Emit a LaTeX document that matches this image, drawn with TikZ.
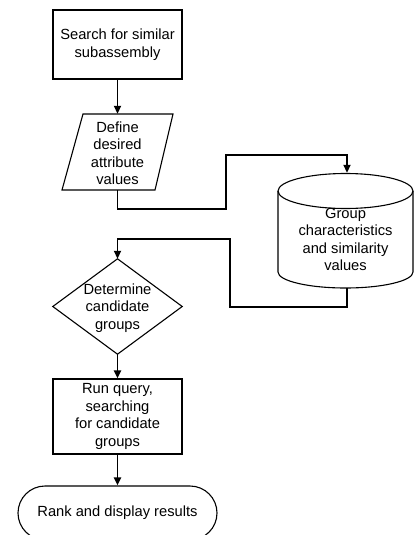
\documentclass[tikz,border=0pt]{standalone}
\usepackage{fontspec}
\setmainfont{Liberation Sans}
\usetikzlibrary{arrows.meta,shapes.misc}
\tikzset{
  shapeline/.style={draw=black,line width=1.1pt},
  lbl/.style={align=center,inner sep=0pt,font=\fontsize{14.7}{17.5}\selectfont},
  boxnode/.style={shapeline,rectangle,lbl},
  ghost/.style={rectangle,inner sep=0pt},
  conn/.style={draw=black,line width=1.9pt,-{Triangle[length=8pt,width=7pt]}}
}
\begin{document}
\begin{tikzpicture}[x=1pt,y=-1pt]
\useasboundingbox (0,0) rectangle (414,535);
\clip (0,0) rectangle (414,535);
\fill[white] (0,0) rectangle (414,535);

% Box 1
\node[boxnode,minimum width=129pt,minimum height=69pt] (b1) at (117.5,44.5) {Search for similar\\subassembly};

% Parallelogram
\node[ghost,minimum width=93pt,minimum height=76pt] (p) at (117.5,152) {};
\draw[shapeline] (83,114) -- (173,114) -- (155,190) -- (62,190) -- cycle;
\node[lbl] (pt) at (117.5,153) {Define\\desired\\attribute\\values};

% Cylinder
\node[ghost,minimum width=135pt,minimum height=115pt] (cyl) at (345.5,230.5) {};
\draw[shapeline,fill=white] (278,191) -- (278,272) arc[start angle=180,end angle=0,x radius=67.5,y radius=16] -- (413,191);
\draw[shapeline] (345.5,191) ellipse[x radius=67.5,y radius=17.5];
\node[lbl] (ct) at (345.5,239.5) {Group\\characteristics\\and similarity\\values};

% Diamond
\node[ghost,minimum width=129pt,minimum height=95pt] (d) at (117.5,306.5) {};
\draw[shapeline] (d.north) -- (d.east) -- (d.south) -- (d.west) -- cycle;
\node[lbl] (dt) at (117.5,308) {Determine\\candidate\\groups};

% Box 2
\node[boxnode,minimum width=129pt,minimum height=75pt] (b2) at (117.5,416.5) {Run query,\\searching\\for candidate\\groups};

% Terminal
\node[shapeline,rounded rectangle,lbl,minimum width=199pt,minimum height=54pt] (t) at (117.5,513) {Rank and display results};

% Connectors
\coordinate (k1) at (226,155);
\coordinate (k2) at (230,239);
\draw[conn] (b1.south) -- (p.north);
\draw[conn] (p.south) -- ++(0,19) -| (k1) -| ([xshift=1.5pt]cyl.north);
\draw[conn] ([xshift=1.5pt]cyl.south) -- ++(0,19) -| (k2) -| (d.north);
\draw[conn] (d.south) -- (b2.north);
\draw[conn] (b2.south) -- (t.north);
\end{tikzpicture}
\end{document}
